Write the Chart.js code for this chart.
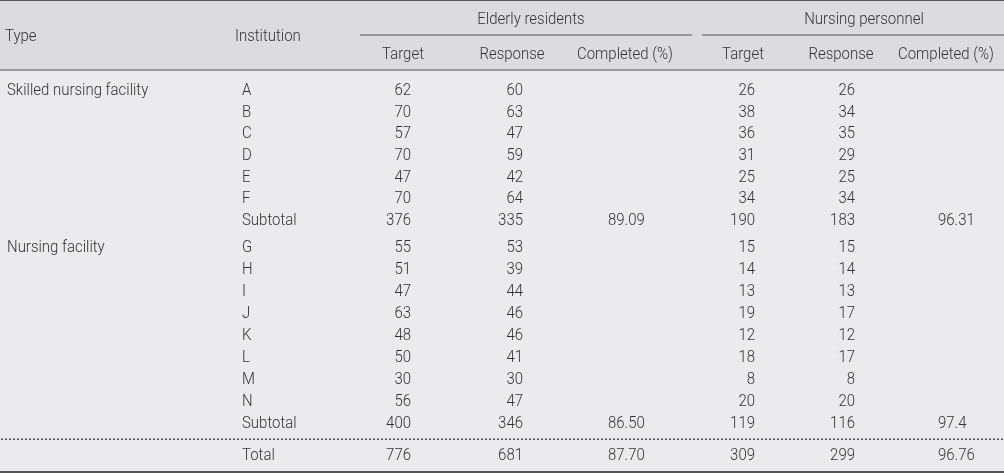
<!DOCTYPE html>
<html>
<head>
<meta charset="utf-8">
<script src="https://cdn.jsdelivr.net/npm/chart.js@4.4.1/dist/chart.umd.min.js"></script>
<style>
html,body{margin:0;padding:0;background:#ebebed;}
#wrap{width:1004px;height:473px;position:relative;}
canvas{display:block;}
</style>
</head>
<body>
<div id="wrap"><canvas id="c" width="1004" height="473"></canvas></div>
<script>
// ---------- data ----------
const types = ['Skilled nursing facility', 'Nursing facility'];
const institutionsSNF = ['A', 'B', 'C', 'D', 'E', 'F'];
const institutionsNF = ['G', 'H', 'I', 'J', 'K', 'L', 'M', 'N'];
const elderlyTargetSNF = [62, 70, 57, 70, 47, 70];
const elderlyResponseSNF = [60, 63, 47, 59, 42, 64];
const nurseTargetSNF = [26, 38, 36, 31, 25, 34];
const nurseResponseSNF = [26, 34, 35, 29, 25, 34];
const elderlyTargetNF = [55, 51, 47, 63, 48, 50, 30, 56];
const elderlyResponseNF = [53, 39, 44, 46, 46, 41, 30, 47];
const nurseTargetNF = [15, 14, 13, 19, 12, 18, 8, 20];
const nurseResponseNF = [15, 14, 13, 17, 12, 17, 8, 20];
// subtotal rows: [elderly target, elderly response, elderly completed, nurse target, nurse response, nurse completed]
const subtotalSNF = ['376', '335', '89.09', '190', '183', '96.31'];
const subtotalNF = ['400', '346', '86.50', '119', '116', '97.4'];
const totalRow = ['776', '681', '87.70', '309', '299', '96.76'];
const groupHeaders = ['Elderly residents', 'Nursing personnel'];
const columnHeaders = ['Target', 'Response', 'Completed (%)'];
const rowHeaders = ['Type', 'Institution'];
const subtotalLabel = 'Subtotal';
const totalLabel = 'Total';

// ---------- layout (positions, not data) ----------
const W = 1004, H = 473;
const FONT_PX = 16;
const FONT = '300 ' + FONT_PX + 'px Roboto, "Liberation Sans", Arial, sans-serif';
const SCALE_X = 0.935;
const CAP_HALF = 0.711 * FONT_PX / 2;
const TXT = '#333';
const colX = { type: 7, inst: 242, eT: 411, eR: 523, eC: 608, nT: 755, nR: 855, nC: 938 };
const colHeadX = [403, 512, 625, 743, 841, 946];
const groupX = [531, 864];
const groupLine = [[360, 692], [702, 1004]];
const headY = { group: 18.5, groupLine: 35, col: 53, rowHead: 35, bottom: 70 };
const g1Y0 = 89.3, g1Step = 21.7, g2Y0 = 246.7, g2Step = 21.95;
const dottedY = 439, totalY = 454.5;

function rowsFor(y0, step, n) { const a = []; for (let i = 0; i <= n; i++) a.push(y0 + i * step); return a; }
const g1Rows = rowsFor(g1Y0, g1Step, institutionsSNF.length);
const g2Rows = rowsFor(g2Y0, g2Step, institutionsNF.length);

// build cell datasets
const cells = { type: [], inst: [], eT: [], eR: [], eC: [], nT: [], nR: [], nC: [] };
function addGroup(typeLabel, insts, eT, eR, nT, nR, sub, rows) {
  cells.type.push({ x: colX.type, y: rows[0], t: typeLabel });
  insts.forEach((s, i) => {
    cells.inst.push({ x: colX.inst, y: rows[i], t: s });
    cells.eT.push({ x: colX.eT, y: rows[i], t: String(eT[i]) });
    cells.eR.push({ x: colX.eR, y: rows[i], t: String(eR[i]) });
    cells.nT.push({ x: colX.nT, y: rows[i], t: String(nT[i]) });
    cells.nR.push({ x: colX.nR, y: rows[i], t: String(nR[i]) });
  });
  addSummary(subtotalLabel, sub, rows[insts.length]);
}
function addSummary(label, vals, y) {
  cells.inst.push({ x: colX.inst, y: y, t: label });
  ['eT', 'eR', 'eC', 'nT', 'nR', 'nC'].forEach((k, i) => cells[k].push({ x: colX[k], y: y, t: vals[i] }));
}
addGroup(types[0], institutionsSNF, elderlyTargetSNF, elderlyResponseSNF, nurseTargetSNF, nurseResponseSNF, subtotalSNF, g1Rows);
addGroup(types[1], institutionsNF, elderlyTargetNF, elderlyResponseNF, nurseTargetNF, nurseResponseNF, subtotalNF, g2Rows);
addSummary(totalLabel, totalRow, totalY);

// header cells
const headerCells = [];
headerCells.push({ x: 5, y: headY.rowHead, t: rowHeaders[0], a: 'left' });
headerCells.push({ x: 235, y: headY.rowHead, t: rowHeaders[1], a: 'left' });
groupHeaders.forEach((g, i) => headerCells.push({ x: groupX[i], y: headY.group, t: g, a: 'center' }));
[0, 1].forEach(gi => columnHeaders.forEach((c, ci) => headerCells.push({ x: colHeadX[gi * 3 + ci], y: headY.col, t: c, a: 'center' })));

const align = { type: 'left', inst: 'left', eT: 'right', eR: 'right', eC: 'left', nT: 'right', nR: 'right', nC: 'left' };
const datasets = Object.keys(cells).map(k => ({ label: k, data: cells[k], align: align[k], pointRadius: 0, pointHoverRadius: 0, showLine: false }));
datasets.push({ label: 'header', data: headerCells, align: null, pointRadius: 0, pointHoverRadius: 0, showLine: false });

const tablePlugin = {
  id: 'table',
  beforeDatasetsDraw(chart) {
    const ctx = chart.ctx, xs = chart.scales.x, ys = chart.scales.y;
    const px = v => xs.getPixelForValue(v), py = v => ys.getPixelForValue(v);
    ctx.save();
    ctx.fillStyle = '#ebebed';
    ctx.fillRect(px(0), py(0), px(W) - px(0), py(H) - py(0));
    ctx.fillStyle = '#dcdcde';
    ctx.fillRect(px(0), py(0), px(W) - px(0), py(headY.bottom) - py(0));
    ctx.fillStyle = '#555';
    ctx.fillRect(px(0), py(0), px(W) - px(0), 1);
    groupLine.forEach(([a, b]) => ctx.fillRect(px(a), py(headY.groupLine) - 0.5, px(b) - px(a), 1));
    ctx.fillStyle = '#9a9a9c';
    ctx.fillRect(px(0), py(headY.bottom) - 1, px(W) - px(0), 2);
    ctx.fillStyle = '#555';
    for (let x = 1; x < W; x += 4) ctx.fillRect(px(x), py(dottedY) - 0.5, 2, 1.5);
    ctx.fillRect(px(0), py(H) - 2, px(W) - px(0), 2);
    ctx.restore();
  },
  afterDatasetsDraw(chart) {
    const ctx = chart.ctx;
    ctx.save();
    ctx.font = FONT;
    ctx.fillStyle = TXT;
    ctx.textBaseline = 'alphabetic';
    chart.data.datasets.forEach((ds, di) => {
      const meta = chart.getDatasetMeta(di);
      meta.data.forEach((el, i) => {
        const d = ds.data[i];
        ctx.save();
        ctx.translate(el.x, el.y + CAP_HALF);
        ctx.scale(SCALE_X, 1);
        ctx.textAlign = ds.align || d.a;
        ctx.fillText(d.t, 0, 0);
        ctx.restore();
      });
    });
    ctx.restore();
  }
};

new Chart(document.getElementById('c'), {
  type: 'scatter',
  data: { datasets },
  options: {
    responsive: false,
    animation: false,
    events: [],
    layout: { padding: 0 },
    plugins: { legend: { display: false }, tooltip: { enabled: false } },
    scales: {
      x: { type: 'linear', min: 0, max: W, display: false },
      y: { type: 'linear', min: 0, max: H, reverse: true, display: false }
    }
  },
  plugins: [tablePlugin]
});
</script>
</body>
</html>
